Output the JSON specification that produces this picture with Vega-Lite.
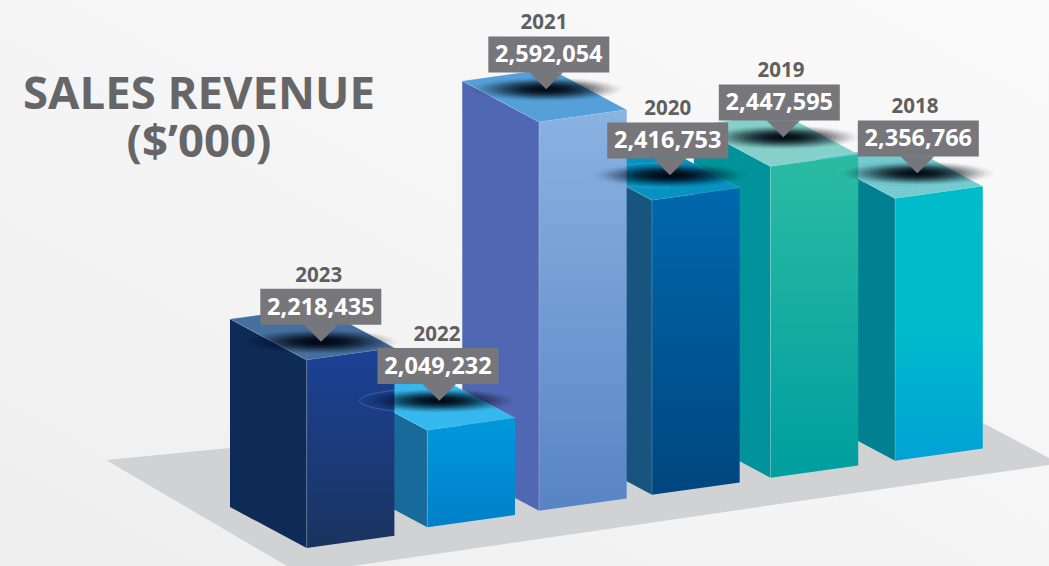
{"$schema":"https://vega.github.io/schema/vega-lite/v6.json","width":1049,"height":566,"padding":0,"autosize":{"type":"none"},"background":"#f5f5f5",
"config":{"view":{"stroke":null},"axis":{"disable":true}},
"data":{"values":[{"year":"2023","revenue":2218435},{"year":"2022","revenue":2049232},{"year":"2021","revenue":2592054},{"year":"2020","revenue":2416753},{"year":"2019","revenue":2447595},{"year":"2018","revenue":2356766}]},
"transform":[
{"calculate":"{'2023':0,'2022':1.0255,'2021':1.975,'2020':2.936,'2019':3.944,'2018':5.003}[datum.year]","as":"slot"},
{"calculate":"{'2023':0,'2022':38500,'2021':69400,'2020':99100,'2019':130800,'2018':162400}[datum.year]","as":"lift"},
{"calculate":"datum.revenue+datum.lift","as":"top"},
{"calculate":"1868700+datum.lift","as":"floor"},
{"calculate":"{'2023':0.1216,'2022':1.1276,'2021':2.0366,'2020':3.0893,'2019':4.0527,'2018':5.1923}[datum.year]","as":"tipx"},
{"calculate":"datum.top+{'2023':34240,'2022':55080,'2021':60850,'2020':46330,'2019':54520,'2018':46710}[datum.year]","as":"tipv"},
{"calculate":"{'2023':0.1199,'2022':1.1165,'2021':2.0587,'2020':3.0697,'2019':4.0187,'2018':5.2007}[datum.year]","as":"boxx"},
{"calculate":"[0,1]","as":"corner"}
],
"layer":[
{"data":{"values":[{"part":"backdrop"}]},"mark":{"type":"point","filled":true,"opacity":1,"size":4,"strokeWidth":0,"shape":"M-524.5 -283L524.5 -283L524.5 283L-524.5 283Z","fill":{"gradient":"linear","x1":0,"y1":1,"x2":1,"y2":0,"stops":[{"offset":0,"color":"#eeeeee"},{"offset":0.5,"color":"#f5f5f5"},{"offset":1,"color":"#fafafa"}]}},
"encoding":{"x":{"datum":1.852,"type":"quantitative","scale":{"domain":[-2.608,6.312],"nice":false,"zero":false}},"y":{"datum":2361800,"type":"quantitative","scale":{"domain":[1835206,2888418],"nice":false,"zero":false}}}},
{"data":{"values":[{"part":"floor"}]},"mark":{"type":"point","filled":true,"opacity":1,"size":4,"strokeWidth":0,"shape":"M-418.5 177L382.1 99.5L534.9 180.5L-224.6 290.6Z","fill":"#d1d2d4"},
"encoding":{"x":{"datum":1.852,"type":"quantitative","scale":{"domain":[-2.608,6.312],"nice":false,"zero":false}},"y":{"datum":2361800,"type":"quantitative","scale":{"domain":[1835206,2888418],"nice":false,"zero":false}}}},
{"transform":[{"flatten":["corner"]},{"calculate":"datum.slot-(1-datum.corner)*0.6522","as":"u"},{"calculate":"datum.top+(1-datum.corner)*76300","as":"t"},{"calculate":"datum.floor+(1-datum.corner)*76300","as":"b"}],
"mark":{"type":"area","opacity":1},
"encoding":{"x":{"field":"u","type":"quantitative","scale":{"domain":[-2.608,6.312],"nice":false,"zero":false}},"y":{"field":"t","type":"quantitative","scale":{"domain":[1835206,2888418],"nice":false,"zero":false}},"y2":{"field":"b"},
"color":{"field":"year","type":"nominal","legend":null,"scale":{"domain":["2023","2022","2021","2020","2019","2018"],"range":["#0e2a57","#186a9a","#5068b3","#17557f","#00939c","#008090"]}}}},
{"mark":{"type":"point","filled":true,"opacity":1,"size":4,"strokeWidth":0.6,"stroke":"#ffffff","strokeOpacity":0.25,"shape":"M0 0L87.7 -12.3L11 -53.3L-76.7 -41Z"},
"encoding":{"x":{"field":"slot","type":"quantitative","scale":{"domain":[-2.608,6.312],"nice":false,"zero":false}},"y":{"field":"top","type":"quantitative","scale":{"domain":[1835206,2888418],"nice":false,"zero":false}},
"color":{"field":"year","type":"nominal","legend":null,"scale":{"domain":["2023","2022","2021","2020","2019","2018"],"range":["#456f9e","#35b8ee","#55a0d8","#0792c2","#85d0ca","#75ccd0"]}}}},
{"transform":[{"filter":"datum.year==='2023'"},{"flatten":["corner"]},{"calculate":"datum.slot+datum.corner*0.7458","as":"u"},{"calculate":"datum.top+datum.corner*22890","as":"t"},{"calculate":"datum.floor+datum.corner*22890","as":"b"}],
"mark":{"type":"area","opacity":1,"fill":{"gradient":"linear","x1":0,"y1":0,"x2":0,"y2":1,"stops":[{"offset":0,"color":"#1c4196"},{"offset":1,"color":"#1a345f"}]}},
"encoding":{"x":{"field":"u","type":"quantitative","scale":{"domain":[-2.608,6.312],"nice":false,"zero":false}},"y":{"field":"t","type":"quantitative","scale":{"domain":[1835206,2888418],"nice":false,"zero":false}},"y2":{"field":"b"}}},
{"transform":[{"filter":"datum.year==='2022'"},{"flatten":["corner"]},{"calculate":"datum.slot+datum.corner*0.7458","as":"u"},{"calculate":"datum.top+datum.corner*22890","as":"t"},{"calculate":"datum.floor+datum.corner*22890","as":"b"}],
"mark":{"type":"area","opacity":1,"fill":{"gradient":"linear","x1":0,"y1":0,"x2":0,"y2":1,"stops":[{"offset":0,"color":"#0099dd"},{"offset":1,"color":"#0080c8"}]}},
"encoding":{"x":{"field":"u","type":"quantitative","scale":{"domain":[-2.608,6.312],"nice":false,"zero":false}},"y":{"field":"t","type":"quantitative","scale":{"domain":[1835206,2888418],"nice":false,"zero":false}},"y2":{"field":"b"}}},
{"transform":[{"filter":"datum.year==='2021'"},{"flatten":["corner"]},{"calculate":"datum.slot+datum.corner*0.7458","as":"u"},{"calculate":"datum.top+datum.corner*22890","as":"t"},{"calculate":"datum.floor+datum.corner*22890","as":"b"}],
"mark":{"type":"area","opacity":1,"fill":{"gradient":"linear","x1":0,"y1":0,"x2":0,"y2":1,"stops":[{"offset":0,"color":"#8ab3e2"},{"offset":1,"color":"#5884c4"}]}},
"encoding":{"x":{"field":"u","type":"quantitative","scale":{"domain":[-2.608,6.312],"nice":false,"zero":false}},"y":{"field":"t","type":"quantitative","scale":{"domain":[1835206,2888418],"nice":false,"zero":false}},"y2":{"field":"b"}}},
{"transform":[{"filter":"datum.year==='2020'"},{"flatten":["corner"]},{"calculate":"datum.slot+datum.corner*0.7458","as":"u"},{"calculate":"datum.top+datum.corner*22890","as":"t"},{"calculate":"datum.floor+datum.corner*22890","as":"b"}],
"mark":{"type":"area","opacity":1,"fill":{"gradient":"linear","x1":0,"y1":0,"x2":0,"y2":1,"stops":[{"offset":0,"color":"#0068ad"},{"offset":1,"color":"#00467f"}]}},
"encoding":{"x":{"field":"u","type":"quantitative","scale":{"domain":[-2.608,6.312],"nice":false,"zero":false}},"y":{"field":"t","type":"quantitative","scale":{"domain":[1835206,2888418],"nice":false,"zero":false}},"y2":{"field":"b"}}},
{"transform":[{"filter":"datum.year==='2019'"},{"flatten":["corner"]},{"calculate":"datum.slot+datum.corner*0.7458","as":"u"},{"calculate":"datum.top+datum.corner*22890","as":"t"},{"calculate":"datum.floor+datum.corner*22890","as":"b"}],
"mark":{"type":"area","opacity":1,"fill":{"gradient":"linear","x1":0,"y1":0,"x2":0,"y2":1,"stops":[{"offset":0,"color":"#2abba3"},{"offset":1,"color":"#009e9f"}]}},
"encoding":{"x":{"field":"u","type":"quantitative","scale":{"domain":[-2.608,6.312],"nice":false,"zero":false}},"y":{"field":"t","type":"quantitative","scale":{"domain":[1835206,2888418],"nice":false,"zero":false}},"y2":{"field":"b"}}},
{"transform":[{"filter":"datum.year==='2018'"},{"flatten":["corner"]},{"calculate":"datum.slot+datum.corner*0.7458","as":"u"},{"calculate":"datum.top+datum.corner*22890","as":"t"},{"calculate":"datum.floor+datum.corner*22890","as":"b"}],
"mark":{"type":"area","opacity":1,"fill":{"gradient":"linear","x1":0,"y1":0,"x2":0,"y2":1,"stops":[{"offset":0,"color":"#00bccb"},{"offset":0.5,"color":"#00bccb"},{"offset":1,"color":"#00a2d6"}]}},
"encoding":{"x":{"field":"u","type":"quantitative","scale":{"domain":[-2.608,6.312],"nice":false,"zero":false}},"y":{"field":"t","type":"quantitative","scale":{"domain":[1835206,2888418],"nice":false,"zero":false}},"y2":{"field":"b"}}},
{"mark":{"type":"rule","color":"#ffffff","opacity":0.25,"strokeWidth":0.8},
"encoding":{"x":{"field":"slot","type":"quantitative","scale":{"domain":[-2.608,6.312],"nice":false,"zero":false}},"y":{"field":"top","type":"quantitative","scale":{"domain":[1835206,2888418],"nice":false,"zero":false}},"y2":{"field":"floor"}}},
{"transform":[{"calculate":"[1,0.94,0.88,0.82,0.76,0.7,0.64,0.58,0.52,0.46,0.4,0.34,0.28,0.22,0.16,0.1]","as":"ring"},{"flatten":["ring"]}],
"mark":{"type":"point","filled":true,"strokeWidth":0,"color":"#01060f","shape":"M-76 0C-76 -6.6 -41.97 -12 0 -12C41.97 -12 76 -6.6 76 0C76 6.6 41.97 12 0 12C-41.97 12 -76 6.6 -76 0Z"},
"encoding":{"x":{"field":"tipx","type":"quantitative","scale":{"domain":[-2.608,6.312],"nice":false,"zero":false}},"y":{"field":"tipv","type":"quantitative","scale":{"domain":[1835206,2888418],"nice":false,"zero":false}},
"size":{"field":"ring","type":"quantitative","legend":null,"scale":{"type":"pow","exponent":2,"domain":[0,1],"range":[0,4]}},
"opacity":{"field":"ring","type":"quantitative","legend":null,"scale":{"domain":[0,1],"range":[0.33,0.03]}}}},
{"transform":[{"filter":"indexof(['2022','2020','2018'],datum.year)>=0"}],
"mark":{"type":"point","filled":false,"size":4.4,"strokeWidth":0.7,"stroke":"#6aa9c8","opacity":0.5,"shape":"M0 -12C-41.97 -12 -76 -6.6 -76 0C-76 6.6 -41.97 12 0 12"},
"encoding":{"x":{"field":"tipx","type":"quantitative","scale":{"domain":[-2.608,6.312],"nice":false,"zero":false}},"y":{"field":"tipv","type":"quantitative","scale":{"domain":[1835206,2888418],"nice":false,"zero":false}}}},
{"mark":{"type":"point","filled":true,"opacity":1,"size":4,"strokeWidth":0,"fill":"#77777b","shape":"M-17 -17L17 -17L0 0Z"},
"encoding":{"x":{"field":"tipx","type":"quantitative","scale":{"domain":[-2.608,6.312],"nice":false,"zero":false}},"y":{"field":"tipv","type":"quantitative","scale":{"domain":[1835206,2888418],"nice":false,"zero":false}}}},
{"mark":{"type":"point","filled":true,"opacity":1,"size":4,"strokeWidth":0,"fill":"#77777b","shape":"M-60.5 -52.8L60.5 -52.8L60.5 -16.8L-60.5 -16.8Z"},
"encoding":{"x":{"field":"boxx","type":"quantitative","scale":{"domain":[-2.608,6.312],"nice":false,"zero":false}},"y":{"field":"tipv","type":"quantitative","scale":{"domain":[1835206,2888418],"nice":false,"zero":false}}}},
{"mark":{"type":"text","font":"Open Sans","fontWeight":"bold","fontSize":23.5,"color":"#ffffff","align":"center","baseline":"middle","dy":-34},
"encoding":{"x":{"field":"boxx","type":"quantitative","scale":{"domain":[-2.608,6.312],"nice":false,"zero":false}},"y":{"field":"tipv","type":"quantitative","scale":{"domain":[1835206,2888418],"nice":false,"zero":false}},"text":{"field":"revenue","type":"quantitative","format":","}}},
{"mark":{"type":"text","font":"Open Sans","fontWeight":"bold","fontSize":20.5,"color":"#5f5f60","align":"center","baseline":"middle","dy":-66,"dx":-2.3},
"encoding":{"x":{"field":"tipx","type":"quantitative","scale":{"domain":[-2.608,6.312],"nice":false,"zero":false}},"y":{"field":"tipv","type":"quantitative","scale":{"domain":[1835206,2888418],"nice":false,"zero":false}},"text":{"field":"year","type":"nominal"}}},
{"data":{"values":[{"label":"SALES REVENUE","u":-0.916,"v":2712400},{"label":"($’000)","u":-0.916,"v":2622300}]},
"mark":{"type":"text","font":"Open Sans","fontWeight":"bold","fontSize":45.5,"color":"#666668","align":"center","baseline":"middle"},
"encoding":{"x":{"field":"u","type":"quantitative","scale":{"domain":[-2.608,6.312],"nice":false,"zero":false}},"y":{"field":"v","type":"quantitative","scale":{"domain":[1835206,2888418],"nice":false,"zero":false}},"text":{"field":"label","type":"nominal"}}}
],
"resolve":{"scale":{"color":"independent"}}}
